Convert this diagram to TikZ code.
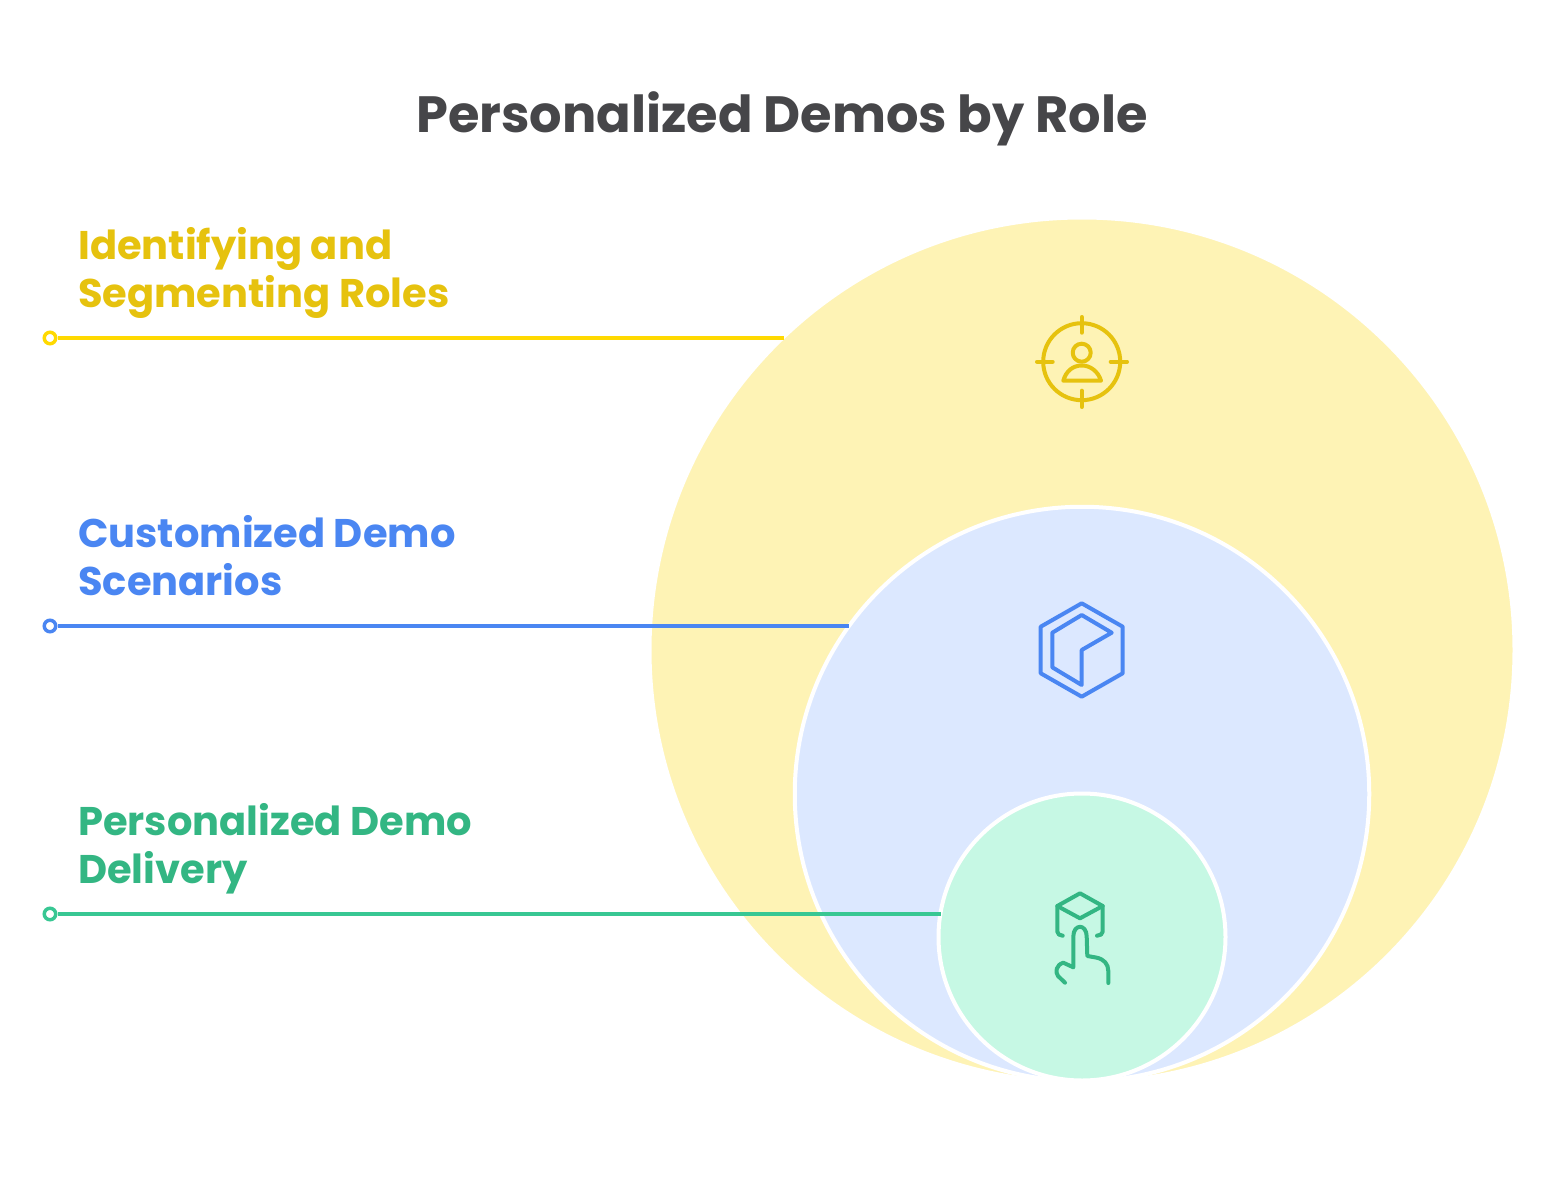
\documentclass[tikz,border=0pt]{standalone}
\usepackage{fontspec}
\setmainfont{Poppins}
\usetikzlibrary{positioning}

\definecolor{titlegray}{HTML}{464649}
\definecolor{yellowfill}{HTML}{FEF3B5}
\definecolor{yellowline}{HTML}{FFD900}
\definecolor{yellowtext}{HTML}{E6C20E}
\definecolor{bluefill}{HTML}{DCE8FF}
\definecolor{blueline}{HTML}{4A86F2}
\definecolor{greenfill}{HTML}{C6F8E4}
\definecolor{greenline}{HTML}{38C793}
\definecolor{greentext}{HTML}{33B683}

\tikzset{
  ring/.style={circle,draw=white,line width=4pt,inner sep=0pt},
  dot/.style={circle,draw,fill=white,line width=3.5pt,inner sep=0pt,minimum size=11.5pt},
  rolelabel/.style={anchor=south west,align=left,inner sep=0pt,text depth=11pt,font=\fontsize{40}{48}\selectfont\bfseries},
  connector/.style={line width=4pt},
  icon/.style={line width=4pt,line join=round,line cap=round}
}

\begin{document}
\begin{tikzpicture}[x=1pt,y=-1pt,node distance=288pt]
      \useasboundingbox (0,0) rectangle (1564,1180);

      \node (title) [font=\fontsize{51}{56}\selectfont\bfseries,text=titlegray] at (782,119) {Personalized Demos by Role};

      % circles
      \node (outer) [ring,line width=2pt,fill=yellowfill,minimum size=863pt] at (1082,650) {};
      \node (middle) [ring,fill=bluefill,minimum size=574.5pt] at (1082,794) {};
      \node (inner) [ring,fill=greenfill,minimum size=287pt] at (1082,937) {};

      % connectors
      \node (yellowdot) [dot,draw=yellowline] at (50,338) {};
      \node (bluedot) [dot,draw=blueline,below of=yellowdot] {};
      \node (greendot) [dot,draw=greenline,below of=bluedot] {};
      \coordinate (yellowend) at (784,338);
      \coordinate (blueend) at (849,626);
      \coordinate (greenend) at (941,914);
      \draw[connector,yellowline] (yellowdot) -- (yellowend);
      \draw[connector,blueline] (bluedot) -- (blueend);
      \draw[connector,greenline] (greendot) -- (greenend);

      \node (yellowlabel) [rolelabel,text=yellowtext] at (78,318.5) {Identifying and\\Segmenting Roles};
      \node (bluelabel) [rolelabel,text=blueline] at (78,606.5) {Customized Demo\\Scenarios};
      \node (greenlabel) [rolelabel,text=greentext] at (78,894.5) {Personalized Demo\\Delivery};

      % target icon
      \draw[icon,yellowtext] (1081.7,361.7) circle (38.5);
      \draw[icon,yellowtext] (1081.7,317) -- (1081.7,332.7)
        (1081.7,390.7) -- (1081.7,407)
        (1037,361.7) -- (1052.7,361.7)
        (1110.7,361.7) -- (1127,361.7);
      \draw[icon,yellowtext] (1081.7,352.7) circle (9);
      \draw[icon,yellowtext] (1063.3,380.7) .. controls (1066,371) and (1073,365.5) .. (1081.7,365.5)
        .. controls (1090,365.5) and (1098,371) .. (1101,380.7) -- cycle;

      % box icon
      \draw[icon,blueline] (1081.7,603.3) -- (1122.7,626.7) -- (1122.7,673.3) -- (1081.7,696.7)
        -- (1040.7,673.3) -- (1040.7,626.7) -- cycle;
      \draw[icon,blueline] (1081.7,615) -- (1111.7,632.7) -- (1081.7,650) -- (1081.7,685)
        -- (1052.3,667.3) -- (1052.3,632.7) -- cycle;

      % hand icon
      \draw[icon,greentext] (1080,893.3) -- (1102.7,906) -- (1080,918.3) -- (1057.3,906) -- cycle;
      \draw[icon,greentext] (1057.3,906) -- (1057.3,931.7) .. controls (1057.3,934) and (1060,935.7) .. (1062.7,935.7);
      \draw[icon,greentext] (1102.7,906) -- (1102.7,931.7) .. controls (1102.7,934) and (1100,935.7) .. (1097,935.7);
      \draw[icon,greentext] (1065,982.7) -- (1058,976) .. controls (1055,972) and (1056,965) .. (1063.3,962.7)
        -- (1073.3,967.3) -- (1073.3,936.7) .. controls (1073.3,923.5) and (1086.7,923.5) .. (1086.7,936.7)
        -- (1087.3,956) -- (1096,957.5) .. controls (1104,959) and (1108.3,964) .. (1108.3,971) -- (1108.3,983);
\end{tikzpicture}
\end{document}
